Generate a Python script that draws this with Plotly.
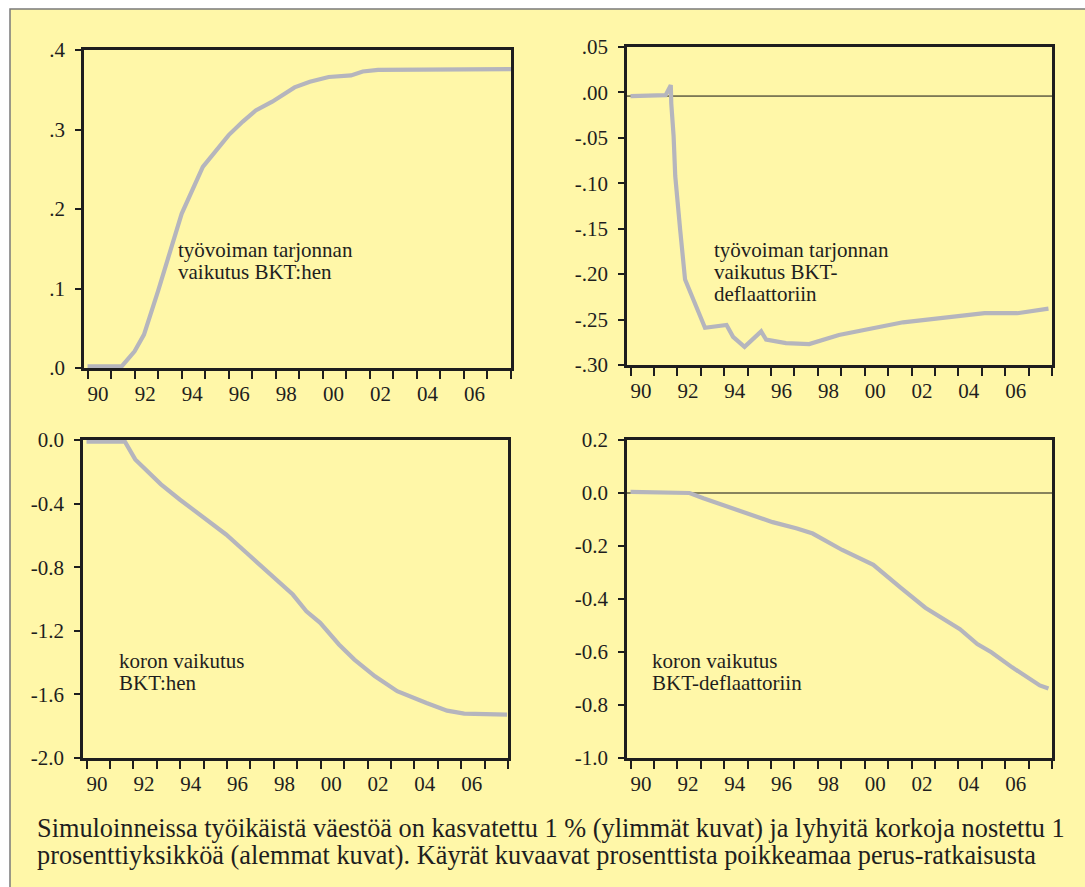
import plotly.graph_objects as go

# ---------------- data ----------------
years_tl = [1990.0, 1991.45, 1992.0, 1992.4, 1993.0, 1993.45, 1994.0, 1994.9, 1995.4, 1996.0,
            1996.6, 1997.15, 1997.85, 1998.8, 1999.45, 2000.25, 2001.2, 2001.7, 2002.35, 2008.0]
vals_tl = [0.002, 0.002, 0.021, 0.042, 0.097, 0.139, 0.194, 0.253, 0.272, 0.293,
           0.310, 0.324, 0.335, 0.353, 0.360, 0.366, 0.368, 0.373, 0.375, 0.376]

years_tr = [1990.0, 1991.5, 1991.72, 1991.74, 1991.84, 1991.91, 1992.12, 1992.33, 1993.18, 1993.67,
            1994.1, 1994.38, 1994.87, 1995.58, 1995.79, 1996.64, 1997.63, 1998.9, 2001.64, 2005.12,
            2006.52, 2007.85]
vals_tr = [-0.004, -0.003, 0.008, -0.012, -0.048, -0.092, -0.151, -0.206, -0.259, -0.258,
           -0.256, -0.269, -0.280, -0.263, -0.272, -0.276, -0.277, -0.267, -0.253, -0.243,
           -0.243, -0.238]

years_bl = [1990.0, 1991.64, 1992.08, 1992.66, 1993.18, 1993.98, 1995.0, 1995.96, 1996.83, 1997.93,
            1998.81, 1999.39, 1999.98, 2000.78, 2001.44, 2002.32, 2003.27, 2004.52, 2005.4, 2006.13,
            2007.96]
vals_bl = [-0.01, -0.01, -0.122, -0.206, -0.279, -0.374, -0.489, -0.594, -0.709, -0.856,
           -0.972, -1.077, -1.150, -1.286, -1.381, -1.486, -1.580, -1.654, -1.702, -1.721,
           -1.727]

years_br = [1990.0, 1992.52, 1993.11, 1994.0, 1995.04, 1996.07, 1997.11, 1997.78, 1999.04, 2000.37,
            2001.56, 2002.59, 2004.07, 2004.81, 2005.41, 2006.3, 2007.48, 2007.85]
vals_br = [0.004, 0.0, -0.02, -0.047, -0.078, -0.110, -0.134, -0.153, -0.215, -0.271,
           -0.359, -0.433, -0.514, -0.570, -0.601, -0.658, -0.726, -0.738]

# reference (baseline) levels drawn as thin lines
baseline_tr = -0.004
baseline_br = 0.0

# tick labels
year_ticks = list(range(1990, 2009))
year_label_years = [1990, 1992, 1994, 1996, 1998, 2000, 2002, 2004, 2006]
year_labels = ["90", "92", "94", "96", "98", "00", "02", "04", "06"]

yt_tl = [0.0, 0.1, 0.2, 0.3, 0.4]
yl_tl = [".0", ".1", ".2", ".3", ".4"]
yt_tr = [0.05, 0.0, -0.05, -0.10, -0.15, -0.20, -0.25, -0.30]
yl_tr = [".05", ".00", "-.05", "-.10", "-.15", "-.20", "-.25", "-.30"]
yt_bl = [0.0, -0.4, -0.8, -1.2, -1.6, -2.0]
yl_bl = ["0.0", "-0.4", "-0.8", "-1.2", "-1.6", "-2.0"]
yt_br = [0.2, 0.0, -0.2, -0.4, -0.6, -0.8, -1.0]
yl_br = ["0.2", "0.0", "-0.2", "-0.4", "-0.6", "-0.8", "-1.0"]

label_tl = ["työvoiman tarjonnan", "vaikutus BKT:hen"]
label_tr = ["työvoiman tarjonnan", "vaikutus BKT-", "deflaattoriin"]
label_bl = ["koron vaikutus", "BKT:hen"]
label_br = ["koron vaikutus", "BKT-deflaattoriin"]

caption = ["Simuloinneissa työikäistä väestöä on kasvatettu 1 % (ylimmät kuvat) ja lyhyitä korkoja nostettu 1",
           "prosenttiyksikköä (alemmat kuvat). Käyrät kuvaavat prosenttista poikkeamaa perus-ratkaisusta"]

# ---------------- styling ----------------
W, H = 1085, 887
BG = "#FFF7A8"
INK = "#1e1e1e"
LINE = "#B5B5BD"
FONT = "Liberation Serif"


def fx(p):
    return p / W


def fy(p):
    return 1 - p / H


panels = [
    # x-left, x-right, y-top, y-bottom (pixels)
    dict(x=years_tl, y=vals_tl, box=(84, 511, 50, 368), yr=[0, 0.4], tv=yt_tl, tt=yl_tl,
         base=None, text=label_tl, tx=177, tc=[250, 272]),
    dict(x=years_tr, y=vals_tr, box=(627, 1052, 47, 365), yr=[-0.30, 0.05], tv=yt_tr, tt=yl_tr,
         base=baseline_tr, text=label_tr, tx=713, tc=[250, 272, 294]),
    dict(x=years_bl, y=vals_bl, box=(83, 508, 440, 758), yr=[-2.0, 0.0], tv=yt_bl, tt=yl_bl,
         base=None, text=label_bl, tx=118, tc=[661, 683]),
    dict(x=years_br, y=vals_br, box=(627, 1052, 440, 758), yr=[-1.0, 0.2], tv=yt_br, tt=yl_br,
         base=baseline_br, text=label_br, tx=651, tc=[661, 683]),
]

fig = go.Figure()
layout = dict(
    template="none",
    width=W, height=H, autosize=False,
    margin=dict(l=0, r=0, t=0, b=0, pad=0),
    paper_bgcolor="white",
    plot_bgcolor=BG,
    showlegend=False,
    font=dict(family=FONT, color=INK, size=21),
)

shapes = [dict(type="rect", xref="paper", yref="paper", x0=fx(10), x1=1.02, y0=-0.02, y1=fy(9),
               fillcolor=BG, line=dict(color="#7a7a7a", width=1.5), layer="below")]
annotations = []

for i, p in enumerate(panels):
    k = "" if i == 0 else str(i + 1)
    xl, xr, yt, yb = p["box"]
    fig.add_trace(go.Scatter(x=p["x"], y=p["y"], mode="lines",
                             line=dict(color=LINE, width=4.2),
                             xaxis="x" + k, yaxis="y" + k, hoverinfo="skip"))
    if p["base"] is not None:
        shapes.append(dict(type="line", xref="x" + k + " domain", yref="y" + k,
                           x0=0, x1=1, y0=p["base"], y1=p["base"],
                           line=dict(color="#111", width=1), layer="below"))
    layout["xaxis" + k] = dict(
        domain=[fx(xl), fx(xr)], range=[1989.85, 2008.0], anchor="y" + k,
        automargin=False,
        showline=True, mirror=True, linecolor=INK, linewidth=2.5,
        showgrid=False, zeroline=False,
        tickmode="array", tickvals=[y + 0.45 for y in year_label_years], ticktext=year_labels,
        ticks="", tickfont=dict(family=FONT, size=21, color=INK), ticklabelstandoff=5,
        minor=dict(tickmode="array", tickvals=year_ticks, ticks="outside", ticklen=8,
                   tickwidth=2, tickcolor=INK, showgrid=False),
        fixedrange=True,
    )
    layout["yaxis" + k] = dict(
        domain=[fy(yb), fy(yt)], range=p["yr"], anchor="x" + k,
        automargin=False,
        showline=True, mirror=True, linecolor=INK, linewidth=2.5,
        showgrid=False, zeroline=False,
        tickmode="array", tickvals=p["tv"], ticktext=p["tt"],
        ticks="outside", ticklen=6, tickwidth=2, tickcolor=INK,
        tickfont=dict(family=FONT, size=21, color=INK), ticklabelstandoff=6,
        fixedrange=True,
    )
    for line, c in zip(p["text"], p["tc"]):
        annotations.append(dict(text=line, xref="paper", yref="paper", x=fx(p["tx"]), y=fy(c),
                                xanchor="left", yanchor="middle", showarrow=False, borderpad=0,
                                font=dict(family=FONT, size=21, color=INK)))

for line, c in zip(caption, [828, 855]):
    annotations.append(dict(text=line, xref="paper", yref="paper", x=fx(36), y=fy(c),
                            xanchor="left", yanchor="middle", showarrow=False, borderpad=0,
                            font=dict(family=FONT, size=26.3, color=INK)))

layout["shapes"] = shapes
layout["annotations"] = annotations
fig.update_layout(**layout)

post = ("document.documentElement.style.margin='0';document.body.style.margin='0';"
        "document.body.style.padding='0';document.body.style.overflow='hidden';"
        "var d=document.getElementById('{plot_id}');d.style.position='absolute';"
        "d.style.left='0px';d.style.top='0px';")
fig.write_html("out.html", post_script=post, config={"displayModeBar": False})
